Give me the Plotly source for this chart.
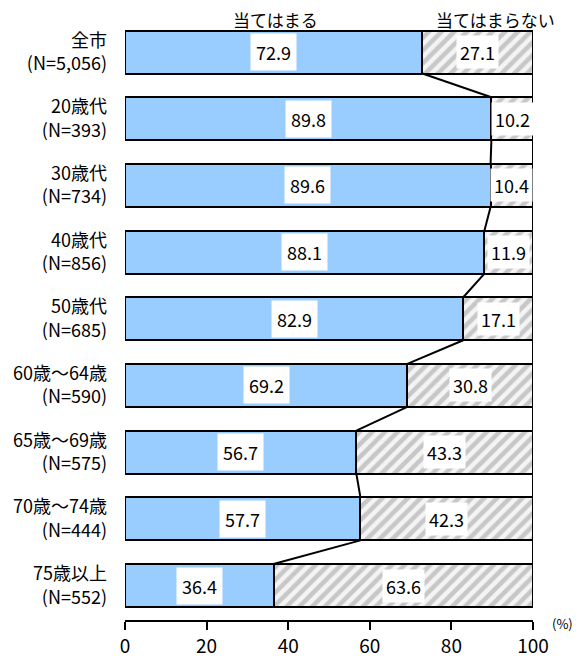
import plotly.graph_objects as go

categories = ['全市<br>(N=5,056)', '20歳代<br>(N=393)', '30歳代<br>(N=734)', '40歳代<br>(N=856)',
              '50歳代<br>(N=685)', '60歳～64歳<br>(N=590)', '65歳～69歳<br>(N=575)',
              '70歳～74歳<br>(N=444)', '75歳以上<br>(N=552)']
applies = [72.9, 89.8, 89.6, 88.1, 82.9, 69.2, 56.7, 57.7, 36.4]
not_applies = [27.1, 10.2, 10.4, 11.9, 17.1, 30.8, 43.3, 42.3, 63.6]
series_names = ['当てはまる', '当てはまらない']
x_ticks = [0, 20, 40, 60, 80, 100]

FONT = 'Noto Sans CJK JP'
BAR_W = 0.645
pos = list(range(len(categories)))

fig = go.Figure()
fig.add_trace(go.Bar(
    y=pos, x=applies, orientation='h', width=BAR_W, name=series_names[0],
    marker=dict(color='#99ccff', line=dict(color='black', width=2)),
))
fig.add_trace(go.Bar(
    y=pos, x=not_applies, orientation='h', width=BAR_W, name=series_names[1],
    marker=dict(color='white', line=dict(color='black', width=2),
                pattern=dict(shape='/', fgcolor='#9a9a9a', bgcolor='#f4f4f4',
                             size=9, solidity=0.5)),
))

# connector lines between the segment boundaries
for i in range(len(pos) - 1):
    fig.add_trace(go.Scatter(
        x=[applies[i], applies[i + 1]],
        y=[i + BAR_W / 2, i + 1 - BAR_W / 2],
        mode='lines', line=dict(color='black', width=2), hoverinfo='skip',
    ))

# right frame line
fig.add_trace(go.Scatter(
    x=[100, 100], y=[-BAR_W / 2, len(pos) - 1 + BAR_W / 2],
    mode='lines', line=dict(color='black', width=2), hoverinfo='skip',
))

for i in pos:
    a, b = applies[i], not_applies[i]
    fig.add_annotation(x=a / 2, y=i, text=f'{a:.1f}', showarrow=False,
                       font=dict(family=FONT, size=18, color='black'),
                       bgcolor='white', borderpad=5)
    fig.add_annotation(x=a + b / 2, y=i, text=f'{b:.1f}', showarrow=False,
                       font=dict(family=FONT, size=18, color='black'),
                       bgcolor='white', borderpad=3)

fig.add_annotation(x=36.9, y=1.0, xref='x', yref='paper', yanchor='bottom', yshift=-3,
                   text=series_names[0], showarrow=False, borderpad=0,
                   font=dict(family=FONT, size=17, color='black'))
fig.add_annotation(x=90.7, y=1.0, xref='x', yref='paper', yanchor='bottom', yshift=-3,
                   text=series_names[1], showarrow=False, borderpad=0,
                   font=dict(family=FONT, size=17, color='black'))
fig.add_annotation(x=1.0, y=0, xref='paper', yref='paper', xanchor='left', yanchor='middle',
                   xshift=17, yshift=-3, text='(%)', showarrow=False,
                   font=dict(family=FONT, size=13, color='black'))

# page body has an 8px margin, so the figure is drawn 8px smaller than the window
fig.update_layout(
    width=573, height=653,
    margin=dict(l=117, r=48, t=22, b=41),
    barmode='stack', showlegend=False,
    plot_bgcolor='white', paper_bgcolor='white',
    font=dict(family=FONT, size=19, color='black'),
)
fig.update_xaxes(range=[0, 100], tickvals=x_ticks, ticks='outside', ticklen=8,
                 tickwidth=2, tickcolor='black', showline=True, linecolor='black',
                 linewidth=2, showgrid=False, zeroline=False, automargin=False,
                 tickfont=dict(family=FONT, size=19))
fig.update_yaxes(range=[len(pos) - 1 + 0.517, -0.33], tickvals=pos, ticktext=categories,
                 showgrid=False, zeroline=False, showline=False, ticks='', automargin=False,
                 ticklabelstandoff=17, tickfont=dict(family=FONT, size=18))

fig.write_html('out.html')
